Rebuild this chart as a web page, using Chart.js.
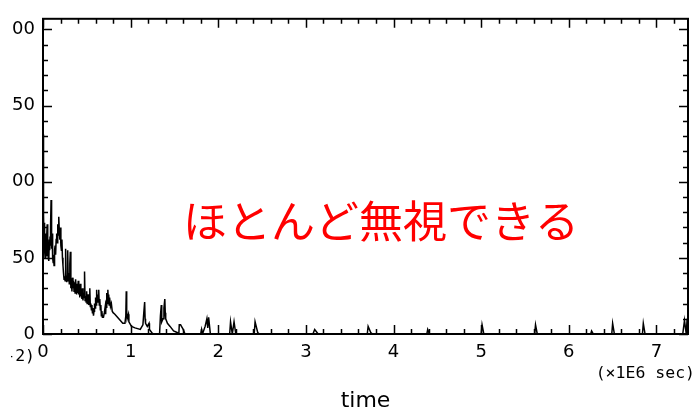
<!DOCTYPE html>
<html>
<head>
<meta charset="utf-8">
<script src="https://cdn.jsdelivr.net/npm/chart.js@4/dist/chart.umd.min.js"></script>
<style>
  html, body { margin: 0; padding: 0; background: #fff; overflow: hidden; }
  #wrap { position: absolute; left: 11px; top: 0; width: 687px; height: 414px; overflow: hidden; }
  #plot { position: absolute; left: -51px; top: 0; }
</style>
</head>
<body>
<div id="wrap"><canvas id="plot" width="738" height="414"></canvas></div>
<script>
// 時間 (×1E6 sec)
const times = [
  0.000, 0.004, 0.008, 0.012, 0.016, 0.020, 0.024, 0.028, 0.032, 0.036,
  0.040, 0.044, 0.048, 0.052, 0.056, 0.060, 0.064, 0.068, 0.072, 0.076,
  0.080, 0.084, 0.088, 0.092, 0.096, 0.100, 0.104, 0.108, 0.112, 0.116,
  0.120, 0.126, 0.132, 0.138, 0.144, 0.150, 0.156, 0.162, 0.168, 0.174,
  0.180, 0.186, 0.192, 0.198, 0.204, 0.210, 0.216, 0.222, 0.228, 0.234,
  0.240, 0.246, 0.252, 0.258, 0.264, 0.270, 0.276, 0.282, 0.288, 0.294,
  0.300, 0.306, 0.312, 0.318, 0.324, 0.330, 0.336, 0.342, 0.348, 0.354,
  0.360, 0.366, 0.372, 0.378, 0.384, 0.390, 0.396, 0.402, 0.408, 0.414,
  0.420, 0.426, 0.432, 0.438, 0.444, 0.450, 0.456, 0.462, 0.468, 0.474,
  0.480, 0.486, 0.492, 0.498, 0.504, 0.510, 0.516, 0.522, 0.528, 0.534,
  0.540, 0.546, 0.552, 0.558, 0.564, 0.570, 0.576, 0.582, 0.588, 0.594,
  0.600, 0.606, 0.612, 0.618, 0.624, 0.630, 0.636, 0.642, 0.648, 0.654,
  0.660, 0.666, 0.672, 0.678, 0.690, 0.700, 0.710, 0.715, 0.720, 0.725,
  0.730, 0.735, 0.740, 0.745, 0.750, 0.755, 0.760, 0.770, 0.780, 0.790,
  0.800, 0.820, 0.850, 0.880, 0.910, 0.935, 0.945, 0.950, 0.955, 0.960,
  0.975, 0.980, 1.010, 1.050, 1.110, 1.140, 1.150, 1.160, 1.165, 1.170,
  1.190, 1.210, 1.215, 1.240, 1.260, 1.330, 1.340, 1.350, 1.355, 1.370,
  1.380, 1.390, 1.395, 1.400, 1.420, 1.450, 1.490, 1.530, 1.550, 1.555,
  1.570, 1.580, 1.600, 1.620,
  1.800, 1.810, 1.820, 1.850, 1.870, 1.880, 1.890, 1.910,
  2.130, 2.140, 2.160, 2.180, 2.200,
  2.410, 2.420, 2.450, 2.470,
  3.080, 3.100, 3.140,
  3.700, 3.710, 3.740, 3.760,
  4.380, 4.390, 4.410,
  5.000, 5.010, 5.030,
  5.610, 5.620, 5.640,
  6.250, 6.260, 6.280,
  6.490, 6.500, 6.520,
  6.840, 6.850, 6.870,
  7.300, 7.320, 7.340, 7.350
];
// 値 (×1E-2)
const values = [
  131, 72, 78, 60, 73, 55, 50, 66, 50, 58,
  51, 64, 72, 54, 60, 50, 57, 48, 62, 55,
  64, 58, 70, 88, 62, 56, 66, 52, 50, 47,
  52, 45, 55, 58, 52, 62, 66, 60, 72, 65,
  77, 68, 62, 70, 58, 55, 62, 50, 45, 40,
  36, 38, 35, 56, 37, 34, 38, 55, 35, 40,
  33, 46, 54, 30, 36, 28, 37, 30, 35, 28,
  34, 27, 36, 30, 26, 33, 27, 35, 26, 30,
  24, 33, 25, 28, 23, 30, 22, 27, 24, 41,
  22, 25, 21, 28, 20, 22, 26, 19, 21, 30,
  18, 20, 16, 19, 14, 17, 12, 15, 20, 17,
  24, 19, 29, 21, 26, 22, 29, 19, 23, 16,
  19, 12, 15, 11, 11, 14, 18, 13, 22, 17,
  27, 20, 29, 22, 26, 19, 24, 18, 20, 15,
  14, 13, 11, 9, 7, 7, 12, 28, 15, 10,
  13, 8, 5, 4, 3, 6, 14, 21, 10, 7,
  5, 7, 3, 1, 0, 0, 12, 19, 8, 10,
  17, 23, 14, 10, 7, 5, 2, 1, 0, 6,
  6, 5, 3, 0,
  0, 3, 0, 5, 10, 4, 11, 0,
  0, 8, 0, 8, 0,
  0, 8, 1, 0,
  0, 3, 0,
  0, 5, 1, 0,
  0, 3, 0,
  0, 6, 0,
  0, 6, 0,
  0, 2, 0,
  0, 7, 0,
  0, 7, 0,
  0, 9, 0, 10
];
const xTicks = [0, 1, 2, 3, 4, 5, 6, 7];
const yTicks = [0, 50, 100, 150, 200];

const xMax = 7.36;
const yMax = 207;

// 枠と内向きの目盛り
const framePlugin = {
  id: 'frame',
  afterDraw(chart) {
    const ctx = chart.ctx;
    const a = chart.chartArea;
    const xs = chart.scales.x;
    const ys = chart.scales.y;
    ctx.save();
    ctx.strokeStyle = '#000';
    ctx.lineWidth = 2;
    ctx.strokeRect(a.left, a.top, a.right - a.left, a.bottom - a.top);

    ctx.lineWidth = 1.5;
    ctx.beginPath();
    for (let i = 0; i * 0.2 <= xMax + 1e-9; i++) {
      const px = Math.round(xs.getPixelForValue(i * 0.2)) + 0.5;
      const len = i % 5 === 0 ? 9 : 5;
      ctx.moveTo(px, a.bottom);
      ctx.lineTo(px, a.bottom - len);
      ctx.moveTo(px, a.top);
      ctx.lineTo(px, a.top + len);
    }
    for (let v = 0; v <= yMax; v += 10) {
      const py = Math.round(ys.getPixelForValue(v)) + 0.5;
      const len = v % 50 === 0 ? 9 : 5;
      ctx.moveTo(a.left, py);
      ctx.lineTo(a.left + len, py);
      ctx.moveTo(a.right, py);
      ctx.lineTo(a.right - len, py);
    }
    ctx.stroke();

    // 単位
    ctx.fillStyle = '#000';
    ctx.font = '16.5px "DejaVu Sans Mono"';
    ctx.textBaseline = 'middle';
    ctx.textAlign = 'right';
    ctx.fillText('(×1E6 sec)', 735, 374);
    ctx.fillText('(×1E-2)', 75, 357);

    // 注釈
    ctx.fillStyle = '#ff0000';
    ctx.font = '44px "Noto Sans CJK JP"';
    ctx.textAlign = 'left';
    ctx.fillText('ほとんど無視できる', 223, 221);
    ctx.restore();
  }
};

new Chart(document.getElementById('plot'), {
  type: 'scatter',
  data: {
    datasets: [{
      data: times.map((t, i) => ({ x: t, y: values[i] })),
      showLine: true,
      borderColor: '#000',
      borderWidth: 1.5,
      pointRadius: 0,
      tension: 0
    }]
  },
  options: {
    responsive: false,
    animation: false,
    devicePixelRatio: 1,
    layout: { padding: { top: 11, right: 10, left: 0, bottom: 0 } },
    plugins: {
      legend: { display: false },
      tooltip: { enabled: false }
    },
    scales: {
      x: {
        type: 'linear',
        min: 0,
        max: xMax,
        grid: { display: false, drawTicks: false },
        border: { display: false },
        afterBuildTicks: s => { s.ticks = xTicks.map(v => ({ value: v })); },
        afterFit: s => { s.height = 80; },
        ticks: {
          padding: 8,
          maxRotation: 0,
          color: '#000',
          font: { family: 'DejaVu Sans', size: 18 }
        },
        title: {
          display: true,
          text: 'time',
          color: '#000',
          padding: { top: 0, bottom: 0 },
          font: { family: 'DejaVu Sans', size: 22 }
        }
      },
      y: {
        type: 'linear',
        min: 0,
        max: yMax,
        grid: { display: false, drawTicks: false },
        border: { display: false },
        afterBuildTicks: s => { s.ticks = yTicks.map(v => ({ value: v })); },
        afterFit: s => { s.width = 83; },
        ticks: {
          padding: 8,
          color: '#000',
          font: { family: 'DejaVu Sans', size: 18 }
        }
      }
    }
  },
  plugins: [framePlugin]
});
</script>
</body>
</html>
